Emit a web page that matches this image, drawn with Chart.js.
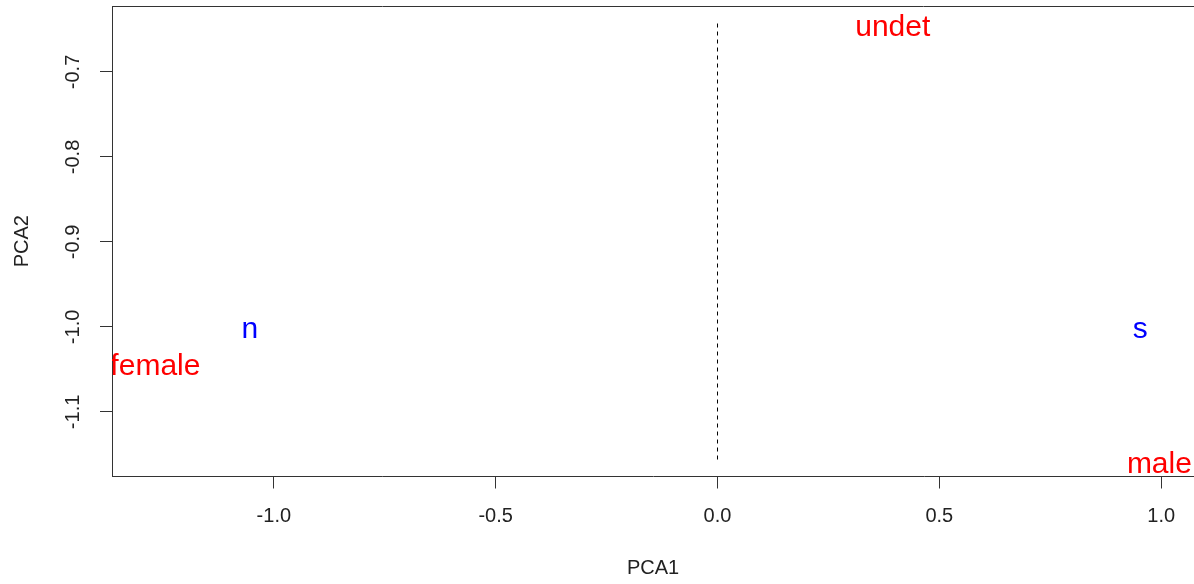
<!DOCTYPE html>
<html>
<head>
<meta charset="utf-8">
<script src="https://cdn.jsdelivr.net/npm/chart.js@4"></script>
<style>
  body { margin: 0; background: #fff; }
</style>
</head>
<body>
<canvas id="chart" width="1194" height="584"></canvas>
<script>
'use strict';

// sex levels (red text)
const sexLabels = ['female', 'male', 'undet'];
const sexX = [-1.267, 0.996, 0.395];
const sexY = [-1.043, -1.159, -0.644];

// population levels (blue text)
const popLabels = ['n', 's'];
const popX = [-1.054, 0.953];
const popY = [-1.0, -1.0];

// dashed line at PCA1 = 0
const refLineX = [0, 0];
const refLineY = [-0.643, -1.158];

const xTicks = [-1.0, -0.5, 0.0, 0.5, 1.0];
const yTicks = [-1.1, -1.0, -0.9, -0.8, -0.7];

const toPoints = (xs, ys) => xs.map((x, i) => ({ x: x, y: ys[i] }));

const axisColor = '#333';
const textColor = '#222';
const fontFamily = '"Liberation Sans", Arial, sans-serif';
const labelSize = 30;

// draws each label centred on its point, clipped to the plot region like R does
const textLabelPlugin = {
    id: 'text_labels',
    afterDatasetsDraw: (chart) => {
        const ctx = chart.ctx;
        const area = chart.chartArea;
        ctx.save();
        ctx.beginPath();
        ctx.rect(area.left, area.top, area.right - area.left, area.bottom - area.top);
        ctx.clip();
        ctx.font = labelSize + 'px ' + fontFamily;
        ctx.textAlign = 'center';
        ctx.textBaseline = 'alphabetic';
        chart.data.datasets.forEach((ds, i) => {
            if (!ds.textLabels) return;
            ctx.fillStyle = ds.textColor;
            chart.getDatasetMeta(i).data.forEach((pt, j) => {
                // R centres on the glyph height, a bit lower than canvas 'middle'
                ctx.fillText(ds.textLabels[j], pt.x, pt.y + labelSize * 0.38);
            });
        });
        ctx.restore();
    }
};

// top edge of the box (left and bottom come from the axes)
const framePlugin = {
    id: 'frame_top',
    afterDraw: (chart) => {
        const ctx = chart.ctx;
        const area = chart.chartArea;
        ctx.save();
        ctx.strokeStyle = axisColor;
        ctx.lineWidth = 1;
        ctx.beginPath();
        ctx.moveTo(area.left, Math.round(area.top) + 0.5);
        ctx.lineTo(area.right, Math.round(area.top) + 0.5);
        ctx.stroke();
        ctx.restore();
    }
};

const data = {
    datasets: [{
        label: 'sex',
        data: toPoints(sexX, sexY),
        textLabels: sexLabels,
        textColor: '#ff0000',
        pointRadius: 0,
        pointHoverRadius: 0
    }, {
        label: 'pop',
        data: toPoints(popX, popY),
        textLabels: popLabels,
        textColor: '#0000ff',
        pointRadius: 0,
        pointHoverRadius: 0
    }, {
        label: 'zero',
        data: toPoints(refLineX, refLineY),
        showLine: true,
        borderColor: '#000',
        borderWidth: 1,
        borderDash: [4, 4],
        pointRadius: 0,
        pointHoverRadius: 0
    }]
};

const options = {
    responsive: false,
    animation: false,
    layout: {
        padding: { top: 6, left: 0, right: 0, bottom: 0 }
    },
    scales: {
        x: {
            type: 'linear',
            min: -1.3648,
            max: 1.074,
            afterBuildTicks: (scale) => {
                scale.ticks = xTicks.map(v => ({ value: v }));
            },
            afterFit: (scale) => {
                scale.height = 107.5;
                scale.paddingLeft = 0;
                scale.paddingRight = 0;
            },
            grid: {
                drawOnChartArea: false,
                drawTicks: true,
                tickLength: 12,
                tickColor: axisColor
            },
            border: { display: true, color: axisColor, width: 1 },
            ticks: {
                padding: 16,
                color: textColor,
                font: { family: fontFamily, size: 20 },
                callback: (v) => v.toFixed(1)
            },
            title: {
                display: true,
                text: 'PCA1',
                color: textColor,
                font: { family: fontFamily, size: 20 },
                padding: { top: 0, bottom: 4 }
            }
        },
        y: {
            type: 'linear',
            min: -1.176,
            max: -0.6224,
            afterBuildTicks: (scale) => {
                scale.ticks = yTicks.map(v => ({ value: v }));
            },
            afterFit: (scale) => {
                // rotated labels would otherwise push the plot top down
                scale.width = 112;
                scale.paddingTop = 0;
                scale.paddingBottom = 0;
            },
            grid: {
                drawOnChartArea: false,
                drawTicks: true,
                tickLength: 12,
                tickColor: axisColor
            },
            border: { display: true, color: axisColor, width: 1 },
            ticks: {
                padding: 9,
                crossAlign: 'center',
                minRotation: 90,
                maxRotation: 90,
                color: textColor,
                font: { family: fontFamily, size: 20 },
                callback: (v) => v.toFixed(1)
            },
            title: {
                display: true,
                text: 'PCA2',
                color: textColor,
                font: { family: fontFamily, size: 20 },
                padding: { top: 10, bottom: 0 }
            }
        }
    },
    plugins: {
        legend: { display: false },
        tooltip: { enabled: false }
    }
};

const config = {
    type: 'scatter',
    data: data,
    options: options,
    plugins: [textLabelPlugin, framePlugin]
};

new Chart(document.getElementById('chart'), config);
</script>
</body>
</html>
